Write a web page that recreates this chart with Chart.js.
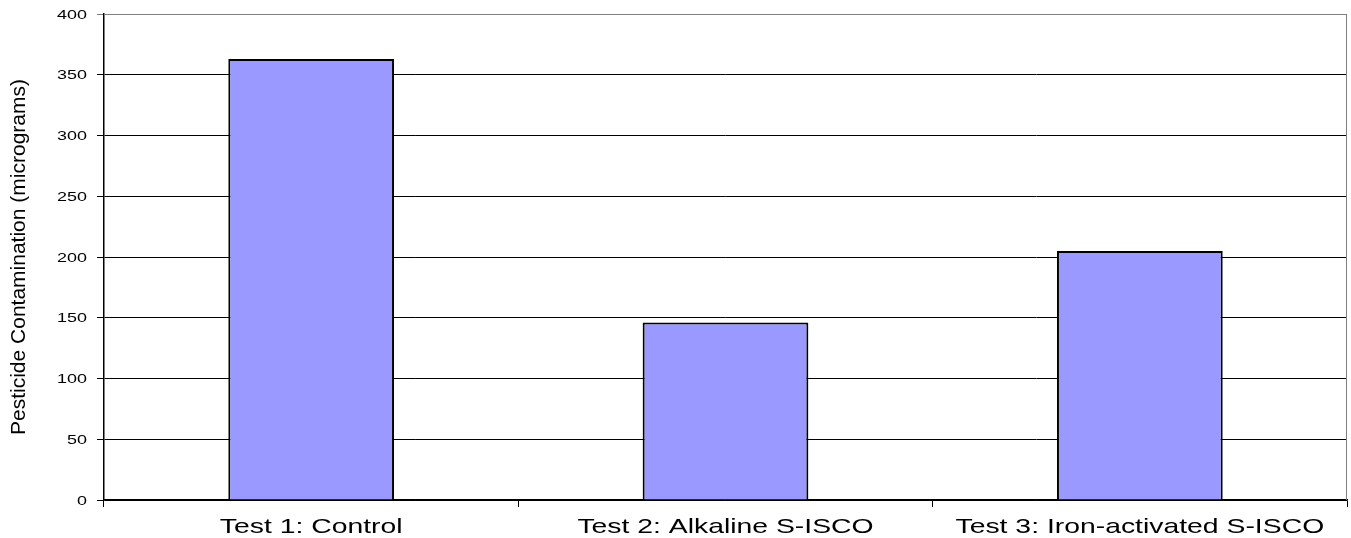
<!DOCTYPE html>
<html>
<head>
<meta charset="utf-8">
<script src="https://cdn.jsdelivr.net/npm/chart.js@4.4.0/dist/chart.umd.min.js"></script>
<style>
  html, body { margin: 0; padding: 0; background: #fff; }
  #wrap { width: 1351px; height: 538px; }
</style>
</head>
<body>
<div id="wrap"><canvas id="c" width="1351" height="538"></canvas></div>
<script>
const categories = ['Test 1: Control', 'Test 2: Alkaline S-ISCO', 'Test 3: Iron-activated S-ISCO'];
const contamination = [363, 146, 205];
const yTitle = 'Pesticide Contamination (micrograms)';

const FONT = '"Liberation Sans", Arial, sans-serif';

// the original picture is stretched sideways, so labels are drawn wide
const wideLabels = {
    id: 'wideLabels',
    afterDraw(chart) {
        const { ctx, chartArea: a } = chart;
        const xs = chart.scales.x, ys = chart.scales.y;
        ctx.save();
        ctx.fillStyle = '#000';

        // top + right frame, gray
        ctx.strokeStyle = '#808080';
        ctx.lineWidth = 1;
        ctx.beginPath();
        ctx.moveTo(a.left, a.top + 0.5);
        ctx.lineTo(a.right - 0.5, a.top + 0.5);
        ctx.lineTo(a.right - 0.5, a.bottom);
        ctx.stroke();

        // x labels
        ctx.font = '21px ' + FONT;
        ctx.textAlign = 'center';
        ctx.textBaseline = 'middle';
        xs.ticks.forEach((t, i) => {
            ctx.save();
            ctx.translate(xs.getPixelForTick(i), a.bottom + 27);
            ctx.scale(1.35, 1);
            ctx.fillText(xs.getLabelForValue(t.value), 0, 0);
            ctx.restore();
        });

        // y labels
        ctx.font = '13px ' + FONT;
        ctx.textAlign = 'right';
        ys.ticks.forEach((t, i) => {
            ctx.save();
            ctx.translate(a.left - 17, ys.getPixelForTick(i) + 1);
            ctx.scale(1.38, 1);
            ctx.fillText(t.label, 0, 0);
            ctx.restore();
        });

        // y title
        ctx.translate(25, (a.top + a.bottom) / 2);
        ctx.rotate(-Math.PI / 2);
        ctx.font = '21px ' + FONT;
        ctx.textAlign = 'center';
        ctx.textBaseline = 'alphabetic';
        ctx.fillText(yTitle, 0, 0);
        ctx.restore();
    }
};

const chart = new Chart(document.getElementById('c').getContext('2d'), {
    type: 'bar',
    data: {
        labels: categories,
        datasets: [{
            data: contamination,
            backgroundColor: '#9999FF',
            borderColor: '#000',
            borderWidth: 2,
            categoryPercentage: 0.4,
            barPercentage: 1
        }]
    },
    options: {
        responsive: false,
        animation: false,
        layout: { padding: { left: 0, right: 4, top: 14, bottom: 0 } },
        plugins: {
            legend: { display: false },
            tooltip: { enabled: false }
        },
        scales: {
            x: {
                grid: { offset: true, drawOnChartArea: false, color: '#000', tickLength: 7 },
                border: { color: '#000', width: 1.5 },
                ticks: { color: 'transparent', maxRotation: 0 },
                afterFit(scale) { scale.height = 38; }
            },
            y: {
                min: 0,
                max: 400,
                ticks: { stepSize: 50, color: 'transparent' },
                grid: {
                    color: (c) => (c.tick && c.tick.value === 400 ? '#808080' : '#000'),
                    lineWidth: 1,
                    tickLength: 7
                },
                border: { color: '#000', width: 1.5 },
                afterFit(scale) { scale.width = 104; }
            }
        }
    },
    plugins: [wideLabels]
});
</script>
</body>
</html>
